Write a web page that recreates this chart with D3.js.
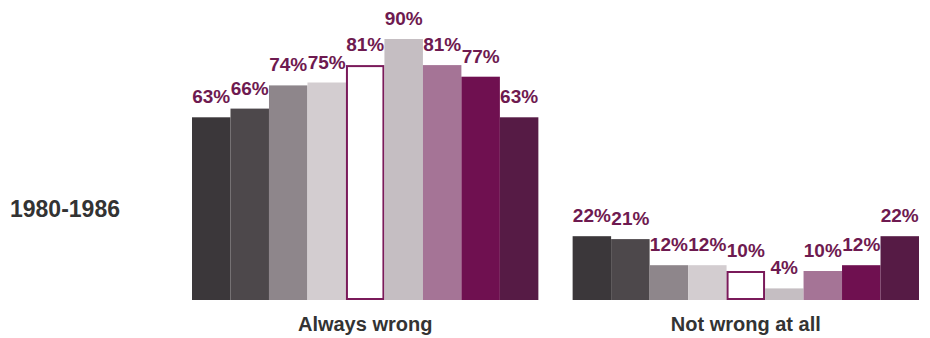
<!DOCTYPE html>
<html>
<head>
<meta charset="utf-8">
<script src="https://cdn.jsdelivr.net/npm/d3@7"></script>
<style>
  body { margin: 0; background: #fff; }
  svg { display: block; }
</style>
</head>
<body>
<div id="chart"></div>
<script>
// data
const groups = ['Always wrong', 'Not wrong at all'];
const series = ['s1', 's2', 's3', 's4', 's5', 's6', 's7', 's8', 's9'];
const alwaysWrong = [63, 66, 74, 75, 81, 90, 81, 77, 63];
const notWrongAtAll = [22, 21, 12, 12, 10, 4, 10, 12, 22];
const periodLabel = '1980-1986';

const fills = ['#3b373a', '#4d484b', '#8e868b', '#d3cdd0', '#ffffff', '#c5bec2', '#a57496', '#6f1050', '#561b45'];
const strokes = [null, null, null, null, '#7a1a5a', null, null, null, null];

const width = 930, height = 338;
const font = 'Liberation Sans, Arial, sans-serif';
const svg = d3.select('#chart').append('svg')
  .attr('width', width)
  .attr('height', height);

const x0 = d3.scaleBand()
  .domain(groups)
  .range([192, 919])
  .paddingInner(0.09);

const x1 = d3.scaleBand()
  .domain(series)
  .range([0, x0.bandwidth()])
  .padding(0);

const y = d3.scaleLinear()
  .domain([0, 100])
  .range([300, 10]);

const rows = groups.map((g, i) => ({
  group: g,
  values: (i === 0 ? alwaysWrong : notWrongAtAll).map((v, j) => ({ key: series[j], value: v, idx: j }))
}));

const g = svg.selectAll('.group')
  .data(rows)
  .enter().append('g')
  .attr('class', 'group')
  .attr('transform', d => `translate(${x0(d.group)},0)`);

g.selectAll('.bar')
  .data(d => d.values)
  .enter().append('rect')
  .attr('class', 'bar')
  .attr('x', d => x1(d.key) + (strokes[d.idx] ? 1 : 0))
  .attr('y', d => y(d.value) + (strokes[d.idx] ? 1 : 0))
  .attr('width', d => x1.bandwidth() - (strokes[d.idx] ? 2 : 0))
  .attr('height', d => y(0) - y(d.value) - (strokes[d.idx] ? 2 : 0))
  .attr('fill', d => fills[d.idx])
  .attr('stroke', d => strokes[d.idx] || 'none')
  .attr('stroke-width', 2);

g.selectAll('.val')
  .data(d => d.values)
  .enter().append('text')
  .attr('class', 'val')
  .attr('x', d => x1(d.key) + x1.bandwidth() / 2)
  .attr('y', d => y(d.value) - 14)
  .attr('text-anchor', 'middle')
  .attr('font-family', font)
  .attr('font-weight', 'bold')
  .attr('font-size', 19)
  .attr('fill', '#6e1a50')
  .text(d => d.value + '%');

svg.selectAll('.cat')
  .data(groups)
  .enter().append('text')
  .attr('class', 'cat')
  .attr('x', d => x0(d) + x0.bandwidth() / 2)
  .attr('y', 331)
  .attr('text-anchor', 'middle')
  .attr('font-family', font)
  .attr('font-weight', 'bold')
  .attr('font-size', 20)
  .attr('fill', '#333')
  .text(d => d);

svg.append('text')
  .attr('x', 10)
  .attr('y', 217)
  .attr('font-family', font)
  .attr('font-weight', 'bold')
  .attr('font-size', 23)
  .attr('fill', '#333')
  .text(periodLabel);
</script>
</body>
</html>
